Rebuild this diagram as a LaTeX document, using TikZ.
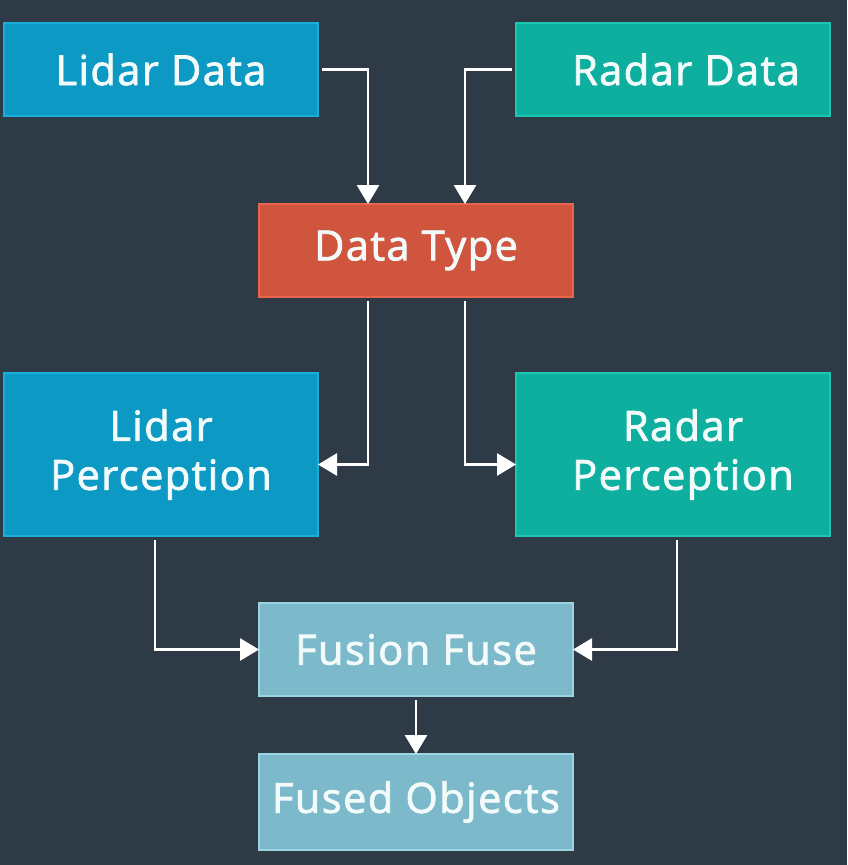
\documentclass[tikz,border=0pt]{standalone}
\usepackage{fontspec}
\setmainfont{Open Sans}
\newfontfamily\boxfont{Open Sans}[FakeBold=2, LetterSpace=3.5]
\usepackage{tikz}
\usetikzlibrary{arrows.meta,positioning,calc}

\definecolor{bgc}{HTML}{2E3A46}
\definecolor{lidarfill}{HTML}{0C9AC5}
\definecolor{lidarline}{HTML}{1AAEDB}
\definecolor{radarfill}{HTML}{0EAF9F}
\definecolor{radarline}{HTML}{1CC6B2}
\definecolor{typefill}{HTML}{D0553E}
\definecolor{typeline}{HTML}{E9644B}
\definecolor{fusefill}{HTML}{7CBACB}
\definecolor{fuseline}{HTML}{9CD3E0}
\definecolor{txt}{HTML}{F2FAFA}

\begin{document}
\begin{tikzpicture}[
  x=1pt, y=1pt,
  font=\boxfont\fontsize{41.5}{49}\selectfont,
  box/.style={draw, line width=2pt, minimum width=314pt, minimum height=93pt, align=center, inner sep=0pt, outer sep=0pt, text=txt},
  lidarbox/.style={box, fill=lidarfill, draw=lidarline},
  radarbox/.style={box, fill=radarfill, draw=radarline},
  typebox/.style={box, fill=typefill, draw=typeline},
  fusebox/.style={box, fill=fusefill, draw=fuseline},
  arr/.style={-{Triangle[length=19pt, width=22pt]}, line width=2.8pt, white, shorten <=4pt}
]
\fill[bgc] (0,0) rectangle (847,-865);
\useasboundingbox (0,0) rectangle (847,-865);

% --- inputs
\node[lidarbox, anchor=north west] (lidar) at (4,-23) {Lidar Data};
\node[radarbox, anchor=north west] (radar) at (516,-23) {\hspace*{26pt}Radar Data};
\node[typebox, anchor=north west] (dtype) at (259,-204) {Data Type};

% --- perception
\node[lidarbox, minimum height=163pt, anchor=north west] (lper) at (4,-373) {Lidar\\Perception};
\node[radarbox, minimum height=163pt, anchor=north west] (rper) at (516,-373) {\hspace*{20pt}Radar\\\hspace*{20pt}Perception};

% --- fusion
\node[fusebox, anchor=north west] (fuse) at (259,-603) {Fusion Fuse};
\node[fusebox, minimum height=96pt, below=58pt of fuse] (fused) {Fused Objects};

\draw[arr] (lidar.east) -| ([xshift=-48pt]dtype.north);
\draw[arr] (radar.west) -| ([xshift=49pt]dtype.north);
\draw[arr] ([xshift=-48pt]dtype.south) |- ([yshift=-10pt]lper.east);
\draw[arr] ([xshift=49pt]dtype.south) |- ([yshift=-10pt]rper.west);
\draw[arr] ([xshift=-6pt]lper.south) |- (fuse.west);
\draw[arr] ([xshift=4pt]rper.south) |- (fuse.east);
\draw[arr] (fuse) -- (fused);
\end{tikzpicture}
\end{document}
